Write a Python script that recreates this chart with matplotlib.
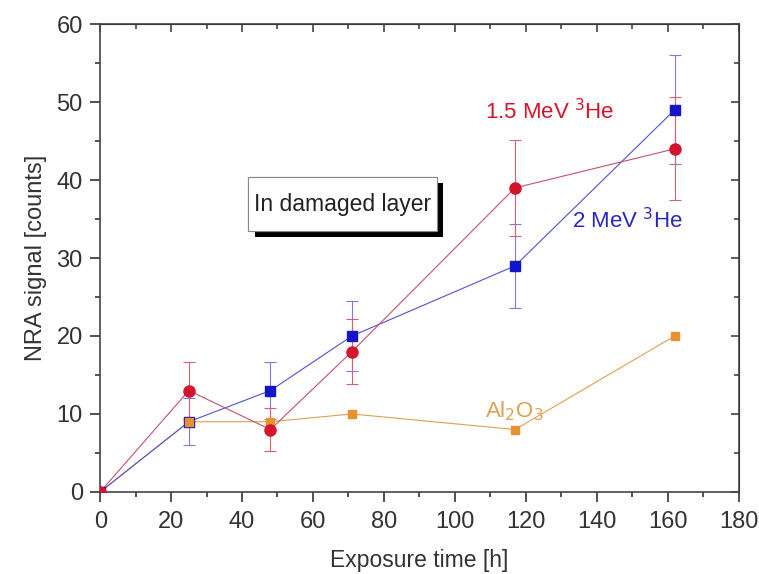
import matplotlib
matplotlib.use('Agg')
import matplotlib.pyplot as plt
from matplotlib.ticker import MultipleLocator
from matplotlib.patches import Rectangle
import matplotlib.patheffects as pe

plt.rcParams['font.family'] = ['Liberation Sans', 'DejaVu Sans']

# Exposure times [h]
time_h = [0, 25, 48, 71, 117, 162]

# NRA counts, 1.5 MeV 3He beam
counts_15 = [0, 13, 8, 18, 39, 44]
err_15 = [0, 3.6, 2.8, 4.2, 6.2, 6.6]

# NRA counts, 2 MeV 3He beam
counts_2 = [0, 9, 13, 20, 29, 49]
err_2 = [0, 3.0, 3.6, 4.5, 5.4, 7.0]

# Al2O3 reference
counts_al = [0, 9, 9, 10, 8, 20]

red = '#d4142c'
blue = '#1414c8'
orange = '#e8922e'

fig = plt.figure(figsize=(7.59, 5.74), dpi=100)
ax = fig.add_axes([0.132, 0.143, 0.841, 0.815])

# Al2O3 first so it sits under the others
ax.plot(time_h, counts_al, '-', color='#e0a050', lw=0.8, zorder=2)
ax.plot(time_h, counts_al, 's', color=orange, ms=6, zorder=5)

ax.errorbar(time_h[1:], counts_2[1:], yerr=err_2[1:], fmt='none',
            ecolor='#7a7ae0', elinewidth=0.8, capsize=4, capthick=0.8, zorder=3)
ax.plot(time_h, counts_2, '-', color='#5050d8', lw=0.8, zorder=3)
ax.plot(time_h, counts_2, 's', color=blue, ms=7, zorder=6)

ax.errorbar(time_h[1:], counts_15[1:], yerr=err_15[1:], fmt='none',
            ecolor='#d86070', elinewidth=0.8, capsize=4, capthick=0.8, zorder=3)
ax.plot(time_h, counts_15, '-', color='#c8506a', lw=0.8, zorder=3)
ax.plot(time_h, counts_15, 'o', color=red, ms=8, zorder=6)

# the orange marker at 25 h covers the blue one
ax.plot(time_h[1:2], counts_al[1:2], 's', color=orange, ms=6, zorder=7)

ax.text(108.5, 47.8, '1.5 MeV $^{3}$He', color=red, fontsize=16)
ax.text(133, 33.8, '2 MeV $^{3}$He', color='#2828c0', fontsize=16)
ax.text(108.5, 9.6, 'Al$_2$O$_3$', color='#e0a050', fontsize=16)

# boxed note with a black drop shadow
note = Rectangle((41.8, 33.5), 53.1, 6.9, fc='white', ec='#888888', lw=0.8,
                 zorder=8,
                 path_effects=[pe.withSimplePatchShadow(offset=(4.5, -4.5),
                                                        shadow_rgbFace='black',
                                                        alpha=1.0),
                               pe.Normal()])
ax.add_patch(note)
ax.text(68.4, 36.9, 'In damaged layer', fontsize=16.5, ha='center',
        va='center', color='#222222', zorder=9)

ax.set_xlim(0, 180)
ax.set_ylim(0, 60)
ax.xaxis.set_major_locator(MultipleLocator(20))
ax.xaxis.set_minor_locator(MultipleLocator(10))
ax.yaxis.set_major_locator(MultipleLocator(10))
ax.yaxis.set_minor_locator(MultipleLocator(5))

ax.tick_params(which='both', direction='out', top=False, right=False,
               labelsize=17, colors='#333333', width=1.2)
ax.tick_params(which='major', length=7)
ax.tick_params(which='minor', length=3.5)
ax.tick_params(axis='x', which='major', pad=7)
ax.tick_params(axis='y', which='major', pad=5.5)
for sp in ax.spines.values():
    sp.set_linewidth(1.2)
    sp.set_color('#444444')

# inward ticks on top and right
axt = ax.secondary_xaxis('top')
axt.xaxis.set_major_locator(MultipleLocator(20))
axt.xaxis.set_minor_locator(MultipleLocator(10))
axt.tick_params(which='both', direction='in', labeltop=False, width=1.2, color='#444444')
axt.tick_params(which='major', length=6)
axt.tick_params(which='minor', length=3.5)
axr = ax.secondary_yaxis('right')
axr.yaxis.set_major_locator(MultipleLocator(10))
axr.yaxis.set_minor_locator(MultipleLocator(5))
axr.tick_params(which='both', direction='in', labelright=False, width=1.2, color='#444444')
axr.tick_params(which='major', length=6)
axr.tick_params(which='minor', length=3.5)

ax.set_xlabel('Exposure time [h]', fontsize=16.5, color='#333333', labelpad=11)
ax.set_ylabel('NRA signal [counts]', fontsize=17, color='#333333', labelpad=7)

fig.savefig('out.png', dpi=100)
